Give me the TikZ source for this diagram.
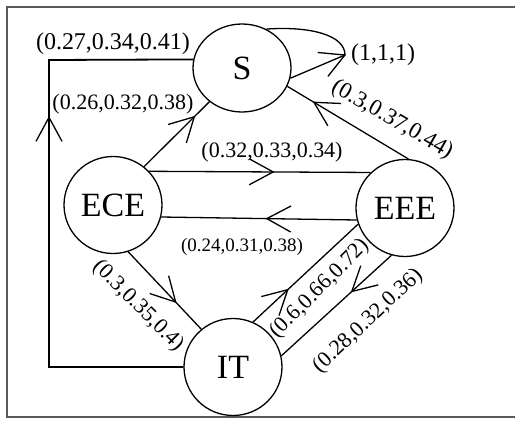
\documentclass[tikz,border=0pt]{standalone}
\usepackage{fontspec}
\setmainfont{Liberation Serif}
\usetikzlibrary{shapes.geometric,decorations.markings}
\begin{document}
\begin{tikzpicture}[x=1pt,y=-1pt,
  state/.style={draw,line width=1.3pt,ellipse,inner sep=0pt,minimum width=98pt,minimum height=97pt,font=\fontsize{34}{36}\selectfont},
  edge/.style={line width=1.3pt},
  vmark/.style={postaction={decorate},decoration={markings,mark=at position #1 with {\draw[line width=1.3pt] (-24,13) -- (0,0) -- (-24,-13);}}},
  lab/.style={inner sep=0pt,font=\fontsize{#1}{#1}\selectfont},
  lab/.default=22,
  frameline/.style={line width=1.8pt,black!65},
]
\useasboundingbox (0,0) rectangle (515,421);
\draw[frameline] (515,7) -- (7,7) -- (7,417) -- (515,417);

\node[state,minimum height=88pt] (S) at (242,68) {S};
\node[state] (ECE) at (113,205) {ECE};
\node[state] (EEE) at (405,208) {EEE};
\node[state] (IT) at (233,367) {IT};

\draw[edge,vmark=0.77] (ECE.51) -- (S.226);
\draw[edge,vmark=0.56] (ECE.43) -- (EEE.134);
\draw[edge,vmark=0.46] (EEE.-166) -- (ECE.-14);
\draw[edge,vmark=0.78] (EEE.86) -- (S.-22);
\draw[edge,vmark=0.65] (ECE.-72) -- (IT.130);
\draw[edge,vmark=0.33] (IT.66) -- (EEE.-161);
\draw[edge,vmark=0.36] (EEE.-106) -- (IT.13);

\coordinate (lc) at (49,60);
\draw[line width=1.8pt,vmark=384pt] (IT.west) -| (lc) -- (S.170);

\coordinate (lt) at (345,55);
\draw[edge,vmark=0.999] (S.-12) -- (lt);
\draw[edge] (lt) .. controls (345,35) and (310,26) .. (S.58);

\node[lab=24] (l1) at (113,44) {(0.27,0.34,0.41)};
\node[lab=22] (l2) at (123,104) {(0.26,0.32,0.38)};
\node[lab=22] (l3) at (272,152) {(0.32,0.33,0.34)};
\node[lab=19] (l4) at (242,247) {(0.24,0.31,0.38)};
\node[lab=23,rotate=-30] (l5) at (392,120) {(0.3,0.37,0.44)};
\node[lab=24] (l6) at (383,55) {(1,1,1)};
\node[lab=22,rotate=-45] (l7) at (138,306) {(0.3,0.35,0.4)};
\node[lab=22,rotate=45] (l8) at (320,289) {(0.6,0.66,0.72)};
\node[lab=22,rotate=43] (l9) at (368,321) {(0.28,0.32,0.36)};
\end{tikzpicture}
\end{document}
